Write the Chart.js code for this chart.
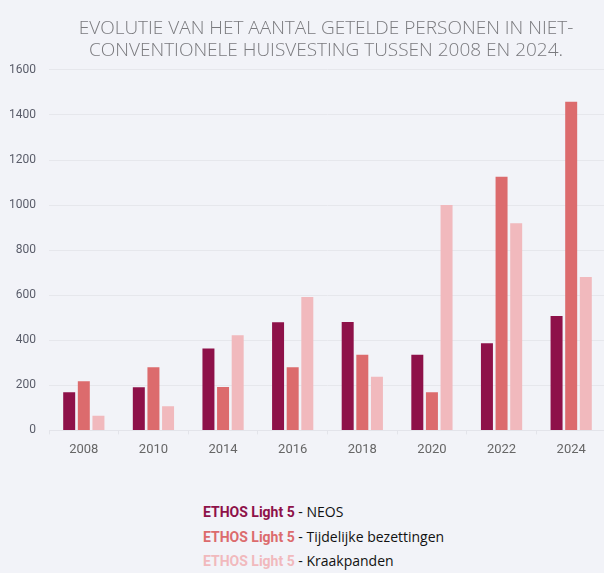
<!DOCTYPE html>
<html>
<head>
<meta charset="utf-8">
<script src="https://cdn.jsdelivr.net/npm/chart.js@4/dist/chart.umd.min.js"></script>
<style>
  html, body { margin: 0; padding: 0; background: #f2f3f8; overflow: hidden; }
  #wrap { position: absolute; left: 0; top: 0; width: 652px; height: 470px; }
  #legend { position: absolute; left: 203px; top: 502px; font-family: "Open Sans", sans-serif; font-size: 14px; color: #111; }
  #legend div { height: 24.5px; line-height: 20px; }
  #legend b { font-family: Roboto, sans-serif; font-weight: 700; }
</style>
</head>
<body>
<div id="wrap"><canvas id="chart" width="652" height="470"></canvas></div>
<div id="legend"></div>
<script>
  // data
  const years = ["2008", "2010", "2014", "2016", "2018", "2020", "2022", "2024"];
  const neos = [169, 192, 364, 480, 481, 336, 387, 508];
  const tijdelijk = [218, 280, 193, 280, 336, 169, 1126, 1459];
  const kraak = [65, 107, 422, 592, 238, 1000, 920, 681];
  const seriesNames = ["NEOS", "Tijdelijke bezettingen", "Kraakpanden"];
  const colors = ["#8e1149", "#dc6b6d", "#f1b9bd"];

  // legend below the chart
  seriesNames.forEach((n, i) => {
    let row = document.createElement("div");
    row.innerHTML = '<b style="color:' + colors[i] + '">ETHOS Light 5</b> - ' + n;
    document.getElementById("legend").appendChild(row);
  });

  new Chart(document.getElementById("chart"), {
    type: "bar",
    data: {
      labels: years,
      datasets: [neos, tijdelijk, kraak].map((d, i) => ({
        label: seriesNames[i],
        data: d,
        backgroundColor: colors[i],
        barPercentage: 0.82,
        categoryPercentage: 0.63,
      })),
    },
    options: {
      responsive: false,
      animation: false,
      layout: { padding: { left: 0, right: 0, bottom: 4 } },
      plugins: {
        legend: { display: false },
        tooltip: { enabled: false },
        title: {
          display: true,
          text: [
            "EVOLUTIE VAN HET AANTAL GETELDE PERSONEN IN NIET-",
            "CONVENTIONELE HUISVESTING TUSSEN 2008 EN 2024.",
          ],
          color: "#7a7a7e",
          font: { family: "'Open Sans', sans-serif", size: 19, weight: "300", lineHeight: 1.13 },
          padding: { top: 18, bottom: 9 },
        },
      },
      scales: {
        x: {
          grid: { drawOnChartArea: false, drawTicks: true, tickLength: 4, color: "#e3e4ea" },
          border: { color: "#e3e4ea" },
          ticks: { color: "#666", font: { family: "Roboto, sans-serif", size: 13 }, padding: 8 },
        },
        y: {
          min: 0,
          max: 1600,
          afterFit: (s) => { s.width = 49; },
          grid: { color: "#e6e7ec", drawTicks: false },
          border: { display: false },
          ticks: {
            stepSize: 200,
            callback: (v) => String(v),
            color: "#5a5d6a",
            font: { family: "Roboto, sans-serif", size: 12 },
            padding: 13,
          },
        },
        // empty right axis so the plot runs past the right edge like the original
        y2: {
          position: "right",
          afterFit: (s) => { s.width = 46; },
          grid: { display: false },
          border: { display: false },
          ticks: { display: false },
        },
      },
    },
  });
</script>
</body>
</html>
